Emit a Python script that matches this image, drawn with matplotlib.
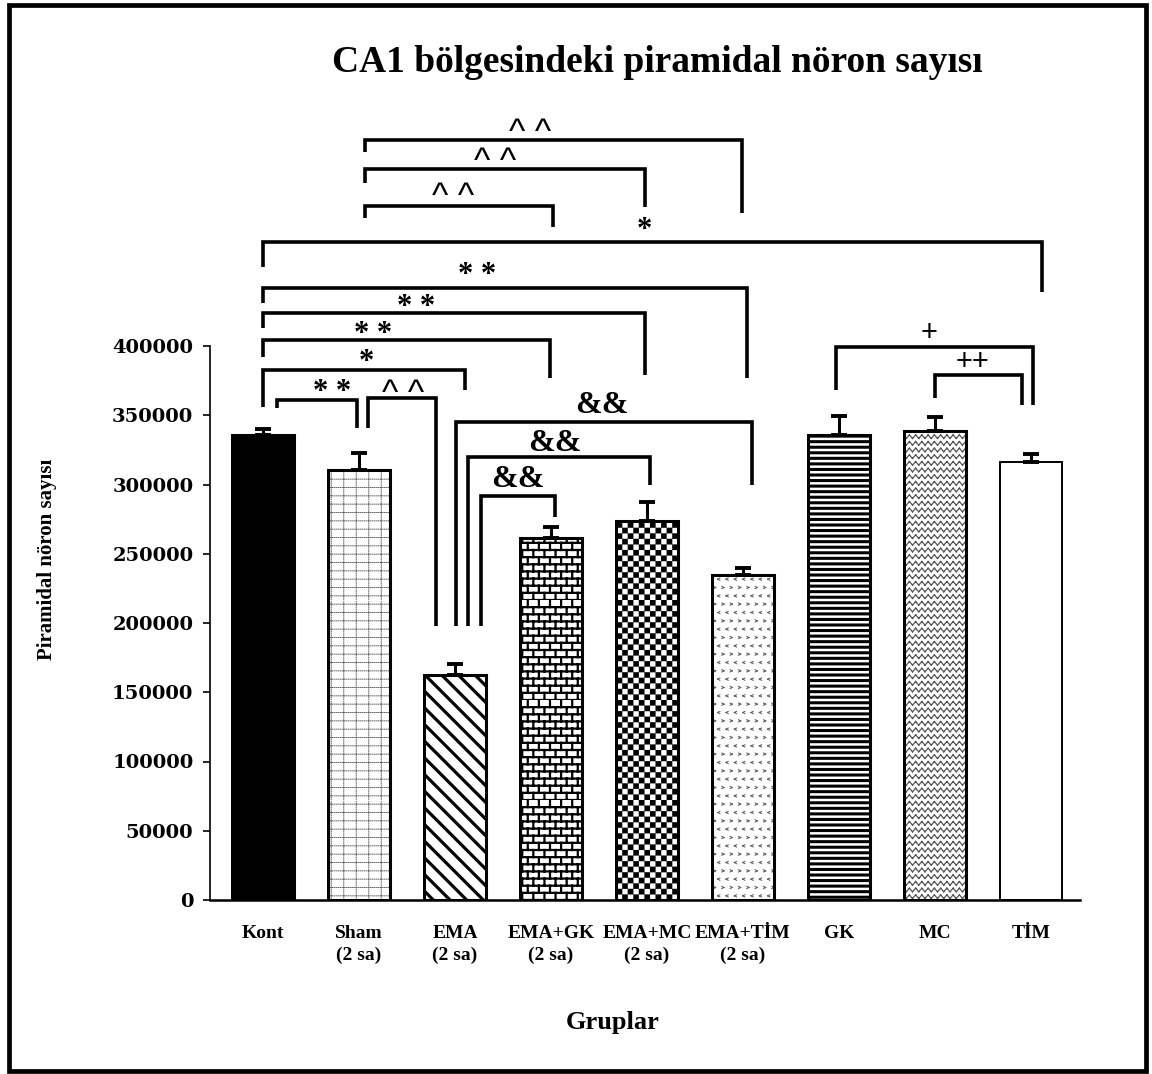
import warnings
import numpy as np
import matplotlib
matplotlib.use("Agg")
import matplotlib.pyplot as plt
from matplotlib import hatch as mhatch
from matplotlib.path import Path
from matplotlib.patches import Rectangle

warnings.filterwarnings("ignore")

# ---------------- data ----------------
groups = ["Kont", "Sham\n(2 sa)", "EMA\n(2 sa)", "EMA+GK\n(2 sa)", "EMA+MC\n(2 sa)",
          "EMA+TİM\n(2 sa)", "GK", "MC", "TİM"]
means = [335700, 310800, 162500, 261400, 273600, 234700, 335700, 338600, 316200]
errs = [4300, 11900, 7900, 7900, 13800, 5000, 13800, 10100, 5800]
yticks = [0, 50000, 100000, 150000, 200000, 250000, 300000, 350000, 400000]

# significance brackets: (x_left, x_right, y_top, y_left_end, y_right_end)
brackets = [
    (1.06, 4.99, 548700, 540100, 496000),
    (1.06, 3.98, 527800, 517700, 500400),
    (1.06, 3.02, 501100, 492400, 485900),
    (0.00, 8.11, 475100, 457000, 439000),
    (0.00, 5.04, 441900, 431000, 376900),
    (0.00, 3.98, 423800, 413000, 379100),
    (0.00, 2.99, 404300, 392100, 376900),
    (0.00, 2.10, 382700, 356000, 368200),
    (0.15, 0.98, 361000, 355200, 340800),
    (1.09, 1.80, 362500, 340800, 197800),
    (2.01, 5.09, 345100, 197800, 299600),
    (2.14, 4.03, 319900, 197800, 299600),
    (2.27, 3.04, 291700, 197800, 276500),
    (5.97, 8.02, 399300, 368200, 357400),
    (7.00, 7.91, 379100, 362500, 357400),
]
# significance labels: (text, x, y_center, kind)
sig_labels = [
    ("^ ^", 2.78, 560300, "caret"),
    ("^ ^", 2.42, 539350, "caret"),
    ("^ ^", 1.98, 514080, "caret"),
    ("*", 3.97, 488800, "star"),
    ("* *", 2.23, 456300, "star"),
    ("* *", 1.59, 433200, "star"),
    ("* *", 1.15, 413700, "star"),
    ("*", 1.08, 393500, "star"),
    ("* *", 0.72, 371800, "star"),
    ("^ ^", 1.46, 371800, "caret"),
    ("&&", 3.53, 359600, "amp"),
    ("&&", 3.04, 332100, "amp"),
    ("&&", 2.65, 306100, "amp"),
    ("+", 6.94, 410800, "plus"),
    ("++", 7.39, 389900, "plus"),
]

# ---------------- custom hatch patterns ----------------
M, L, CL = Path.MOVETO, Path.LINETO, Path.CLOSEPOLY


def _segs(segments):
    V, C = [], []
    for (a, b) in segments:
        V += [a, b]
        C += [M, L]
    return np.array(V, float), np.array(C, dtype=Path.code_type)


def brick_geom():
    rows, cols = 14, 9
    segs = []
    for r in range(rows):
        y = r / rows
        segs.append(((0, y), (1, y)))
        for k in range(cols):
            xx = (k + 0.5 * (r % 2)) / cols
            segs.append(((xx, y), (xx, y + 1 / rows)))
    return _segs(segs)


def checker_geom():
    n = 18
    s = 1 / n
    V, C = [], []
    for i in range(n):
        for j in range(n):
            if (i + j) % 2 == 0:
                x0, y0 = i * s, j * s
                V += [(x0, y0), (x0 + s, y0), (x0 + s, y0 + s), (x0, y0 + s), (x0, y0)]
                C += [M, L, L, L, CL]
    return np.array(V, float), np.array(C, dtype=Path.code_type)


def zigzag_geom():
    rows, per, amp = 15, 16, 0.018
    segs = []
    for r in range(rows):
        y = (r + 0.5) / rows
        pts = [(k / (2 * per), y + (amp if k % 2 else -amp)) for k in range(2 * per + 1)]
        for a, b in zip(pts[:-1], pts[1:]):
            segs.append((a, b))
    return _segs(segs)


def chevron_geom():
    n = 12
    w = 0.011
    segs = []
    for r in range(n):
        cy = (r + 0.5) / n
        for k in range(n):
            cx = (k + 0.25 + 0.5 * (r % 2)) / n
            d = 1 if r % 2 == 0 else -1
            segs.append(((cx + d * w, cy + w), (cx - d * w, cy)))
            segs.append(((cx - d * w, cy), (cx + d * w, cy - w)))
    return _segs(segs)


def dotgrid_geom():
    segs = []
    nd, dl = 50, 0.006
    for k in range(8):
        xx = (k + 0.5) / 8
        for j in range(nd):
            y = j / nd
            segs.append(((xx, y), (xx, y + dl)))
    for k in range(12):
        y = (k + 0.5) / 12
        for j in range(nd):
            xx = j / nd
            segs.append(((xx, y), (xx + dl, y)))
    return _segs(segs)


def make_hatch(char, geom_fn):
    geom = geom_fn()

    class _H(mhatch.HatchPatternBase):
        def __init__(self, hatch, density):
            self.num_vertices = len(geom[0]) if char in hatch else 0

        def set_vertices_and_codes(self, vertices, codes):
            vertices[:] = geom[0]
            codes[:] = geom[1]
    return _H


for ch, fn in [("b", brick_geom), ("c", checker_geom), ("z", zigzag_geom),
               ("v", chevron_geom), ("g", dotgrid_geom)]:
    mhatch._hatch_types.append(make_hatch(ch, fn))

# styles per bar: (face, hatch, hatch colour, hatch lw, edge lw)
bar_styles = [
    ("black", None, "black", 1.0, 2.2),
    ("white", "g", "#666666", 0.7, 2.2),
    ("white", "\\\\", "black", 2.3, 2.2),
    ("white", "b", "black", 1.6, 2.2),
    ("white", "c", "black", 0.1, 2.2),
    ("white", "v", "#666666", 0.8, 2.2),
    ("white", "---", "black", 2.2, 2.2),
    ("white", "z", "#555555", 0.9, 2.2),
    ("white", None, "black", 1.0, 1.4),
]

# ---------------- figure ----------------
W, H = 1152, 1074
fig = plt.figure(figsize=(W / 100, H / 100), dpi=100)
fig.patch.set_facecolor("white")

px_per_unit = 554 / 400000
y_top = (900 - 100) / px_per_unit
ax = fig.add_axes([210 / W, (H - 900) / H, (1080 - 210) / W, 800 / H])
ax.set_ylim(0, y_top)
ax.set_xlim((210 - 263) / 96, (1080 - 263) / 96)

x = np.arange(len(groups))
bw = 0.65
for i, (face, hatch, hcol, hlw, elw) in enumerate(bar_styles):
    with plt.rc_context({"hatch.linewidth": hlw}):
        bars = ax.bar(x[i], means[i], width=bw, color=face, edgecolor=hcol,
                      linewidth=0, hatch=hatch, zorder=2)
    for p in bars:
        if hasattr(p, "set_hatch_linewidth"):
            p.set_hatch_linewidth(hlw)
    ax.bar(x[i], means[i], width=bw, fill=False, edgecolor="black",
           linewidth=elw, zorder=3)

ax.errorbar(x, means, yerr=[np.zeros(len(errs)), errs], fmt="none", ecolor="black",
            elinewidth=2.2, capsize=6, capthick=2.8, zorder=4)

# brackets
for (x1, x2, yt, yl, yr) in brackets:
    ax.plot([x1, x1, x2, x2], [yl, yt, yt, yr], color="black", lw=2.6,
            solid_joinstyle="miter", solid_capstyle="butt", zorder=5)

label_style = {
    "star": dict(family="Liberation Serif", weight="bold", size=22, c=0.50),
    "caret": dict(family="Liberation Sans", weight="normal", size=25, c=0.55),
    "amp": dict(family="Liberation Serif", weight="bold", size=23, c=0.34),
    "plus": dict(family="Liberation Sans", weight="normal", size=21, c=0.34),
}
for txt, lx, ly, kind in sig_labels:
    st = label_style[kind]
    ax.annotate(txt, xy=(lx, ly), xytext=(0, -st["c"] * st["size"]),
                textcoords="offset points", ha="center", va="baseline",
                fontfamily=st["family"], fontweight=st["weight"],
                fontsize=st["size"], zorder=6, annotation_clip=False)

# axes styling
for s in ["top", "right"]:
    ax.spines[s].set_visible(False)
ax.spines["left"].set_bounds(0, 400000)
ax.spines["left"].set_linewidth(1.2)
ax.spines["bottom"].set_linewidth(1.8)
ax.set_yticks(yticks)
ax.set_yticklabels([str(v) for v in yticks], fontfamily="DejaVu Serif",
                   fontweight="bold", fontsize=14)
ax.tick_params(axis="y", direction="out", length=5, width=1.2, pad=7)
ax.set_xticks(x)
ax.set_xticklabels(groups, fontfamily="Liberation Serif", fontweight="bold",
                   fontsize=14, linespacing=1.35)
ax.tick_params(axis="x", length=0, pad=18)

fig.text(657 / W, 1 - 63 / H, "CA1 bölgesindeki piramidal nöron sayısı",
         ha="center", va="center", fontfamily="Liberation Serif",
         fontweight="bold", fontsize=27)
fig.text(47 / W, 1 - 559 / H, "Piramidal nöron sayısı", rotation=90,
         ha="center", va="center", fontfamily="Liberation Serif",
         fontweight="bold", fontsize=15)
fig.text(613 / W, 1 - 1022 / H, "Gruplar", ha="center", va="center",
         fontfamily="Liberation Serif", fontweight="bold", fontsize=19)

# outer frame
fig.patches.append(Rectangle((8.5 / W, 3 / H), (1146 - 8.5) / W, (1069 - 3) / H,
                             transform=fig.transFigure, fill=False,
                             edgecolor="black", linewidth=3.4, zorder=10))

fig.savefig("out.png", dpi=100, facecolor="white")
